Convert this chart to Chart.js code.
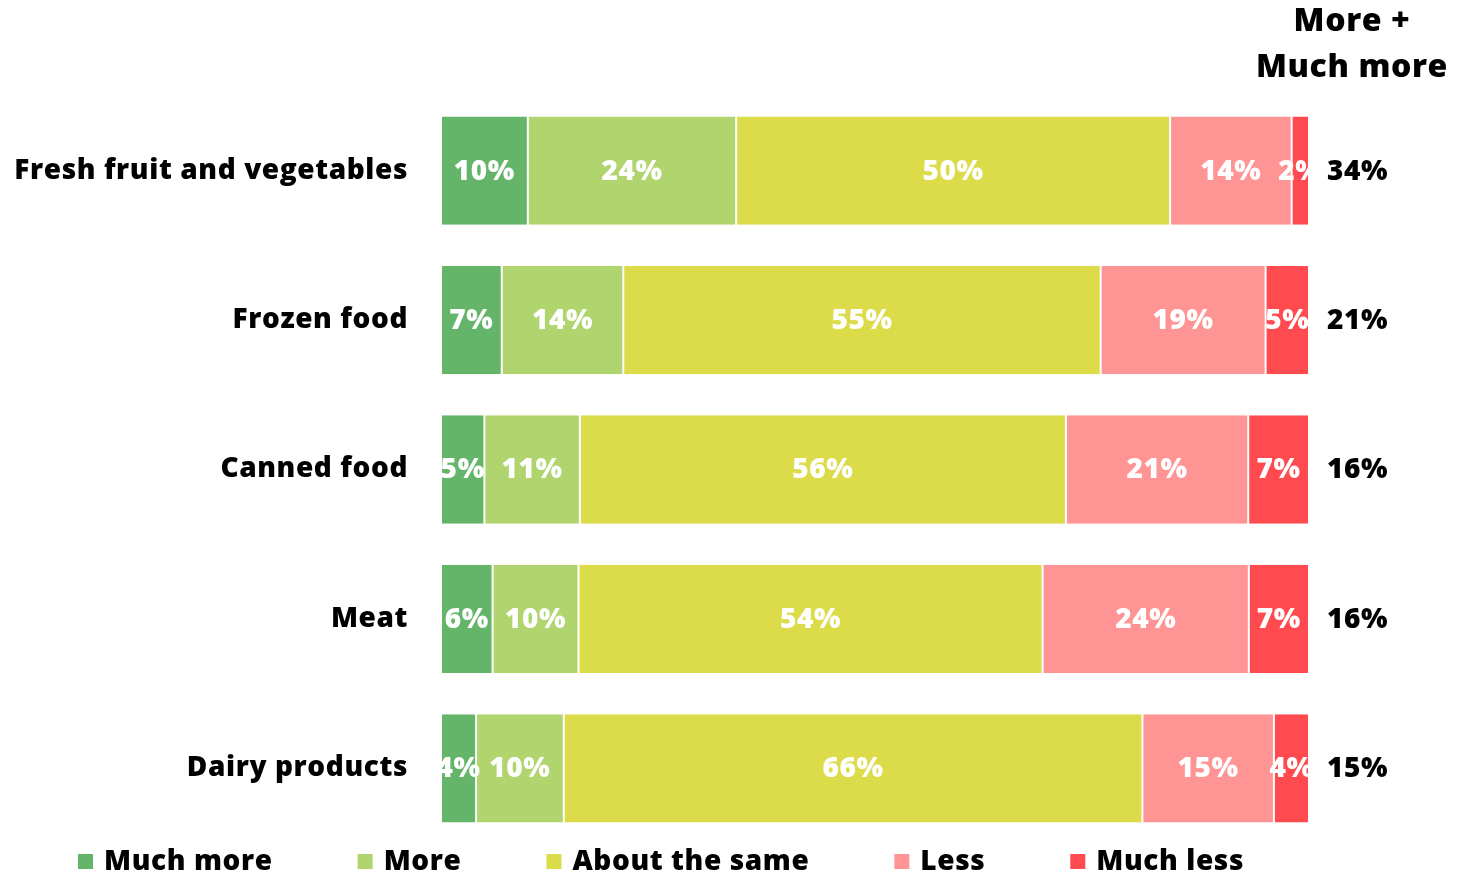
<!DOCTYPE html>
<html>
<head>
<meta charset="utf-8">
<script src="https://cdn.jsdelivr.net/npm/chart.js@4/dist/chart.umd.min.js"></script>
<style>
  html, body { margin: 0; padding: 0; background: #fff; }
  #wrap { width: 1458px; height: 876px; position: relative; }
</style>
</head>
<body>
<div id="wrap"><canvas id="chart" width="1458" height="876"></canvas></div>
<script>
const categories = ['Fresh fruit and vegetables', 'Frozen food', 'Canned food', 'Meat', 'Dairy products'];
const seriesNames = ['Much more', 'More', 'About the same', 'Less', 'Much less'];
const muchMore = [10, 7, 5, 6, 4];
const more = [24, 14, 11, 10, 10];
const aboutSame = [50, 55, 56, 54, 66];
const less = [14, 19, 21, 24, 15];
const muchLess = [2, 5, 7, 7, 4];
const moreTotals = [34, 21, 16, 16, 15];
const totalsHeader = ['More +', 'Much more'];

const colors = ['#64b56a', '#b0d46e', '#dcdc4b', '#ff9494', '#ff4b50'];
const FONT = '"Open Sans", Lato, sans-serif';

const raw = [muchMore, more, aboutSame, less, muchLess];
// rows are shown as 100% stacks, so each segment is its share of the row total
const rowSums = categories.map((_, i) => raw.reduce((s, arr) => s + arr[i], 0));

const datasets = raw.map((vals, k) => ({
  label: seriesNames[k],
  data: vals.map((v, i) => v / rowSums[i] * 100),
  shown: vals,
  backgroundColor: colors[k],
  borderColor: '#ffffff',
  borderWidth: { left: 1, right: 1, top: 0, bottom: 0 },
  borderSkipped: false,
  categoryPercentage: 1,
  barPercentage: 0.725
}));

// slightly wider lettering for every text drawn on the canvas
const spacing = {
  id: 'spacing',
  beforeDraw(chart) { chart.ctx.letterSpacing = '0.6px'; }
};

const segmentLabels = {
  id: 'segmentLabels',
  afterDatasetsDraw(chart) {
    const ctx = chart.ctx;
    ctx.save();
    ctx.font = '800 28px ' + FONT;
    ctx.fillStyle = '#ffffff';
    ctx.textAlign = 'center';
    ctx.textBaseline = 'middle';
    chart.data.datasets.forEach((ds, k) => {
      chart.getDatasetMeta(k).data.forEach((bar, i) => {
        ctx.fillText(ds.shown[i] + '%', (bar.x + bar.base) / 2, bar.y + 1);
      });
    });
    ctx.restore();
  }
};

const sideTotals = {
  id: 'sideTotals',
  afterDraw(chart) {
    const ctx = chart.ctx;
    const area = chart.chartArea;
    const meta = chart.getDatasetMeta(0);
    ctx.save();
    ctx.fillStyle = '#000000';
    ctx.textBaseline = 'middle';
    ctx.textAlign = 'left';
    ctx.font = '800 28px ' + FONT;
    meta.data.forEach((bar, i) => {
      ctx.fillText(moreTotals[i] + '%', area.right + 18, bar.y + 1);
    });
    ctx.textAlign = 'center';
    ctx.font = '800 32px ' + FONT;
    ctx.fillText(totalsHeader[0], area.right + 43, 22);
    ctx.fillText(totalsHeader[1], area.right + 43, 68);
    ctx.restore();
  }
};

const bottomLegend = {
  id: 'bottomLegend',
  afterDraw(chart) {
    const ctx = chart.ctx;
    ctx.save();
    ctx.font = '800 28px ' + FONT;
    ctx.textBaseline = 'middle';
    ctx.textAlign = 'left';
    let x = 78;
    const y = 862;
    chart.data.datasets.forEach(ds => {
      ctx.fillStyle = ds.backgroundColor;
      ctx.fillRect(x, y - 8, 15, 15);
      ctx.fillStyle = '#000000';
      ctx.fillText(ds.label, x + 26, y);
      x += 26 + ctx.measureText(ds.label).width + 85;
    });
    ctx.restore();
  }
};

new Chart(document.getElementById('chart'), {
  type: 'bar',
  data: { labels: categories, datasets: datasets },
  options: {
    indexAxis: 'y',
    responsive: false,
    maintainAspectRatio: false,
    animation: false,
    layout: { padding: { top: 96, bottom: 33, left: 0, right: 149 } },
    plugins: {
      legend: { display: false },
      tooltip: { enabled: false },
      title: { display: false }
    },
    scales: {
      x: {
        stacked: true,
        min: 0,
        max: 100,
        display: false
      },
      y: {
        stacked: true,
        grid: { display: false, drawTicks: false },
        border: { display: false },
        afterFit(scale) {
          scale.width = 441;
          scale.paddingTop = 0;
          scale.paddingBottom = 0;
        },
        ticks: {
          padding: 33,
          color: '#000000',
          font: { family: FONT, size: 28, weight: 800 }
        }
      }
    }
  },
  plugins: [spacing, segmentLabels, sideTotals, bottomLegend]
});
</script>
</body>
</html>
